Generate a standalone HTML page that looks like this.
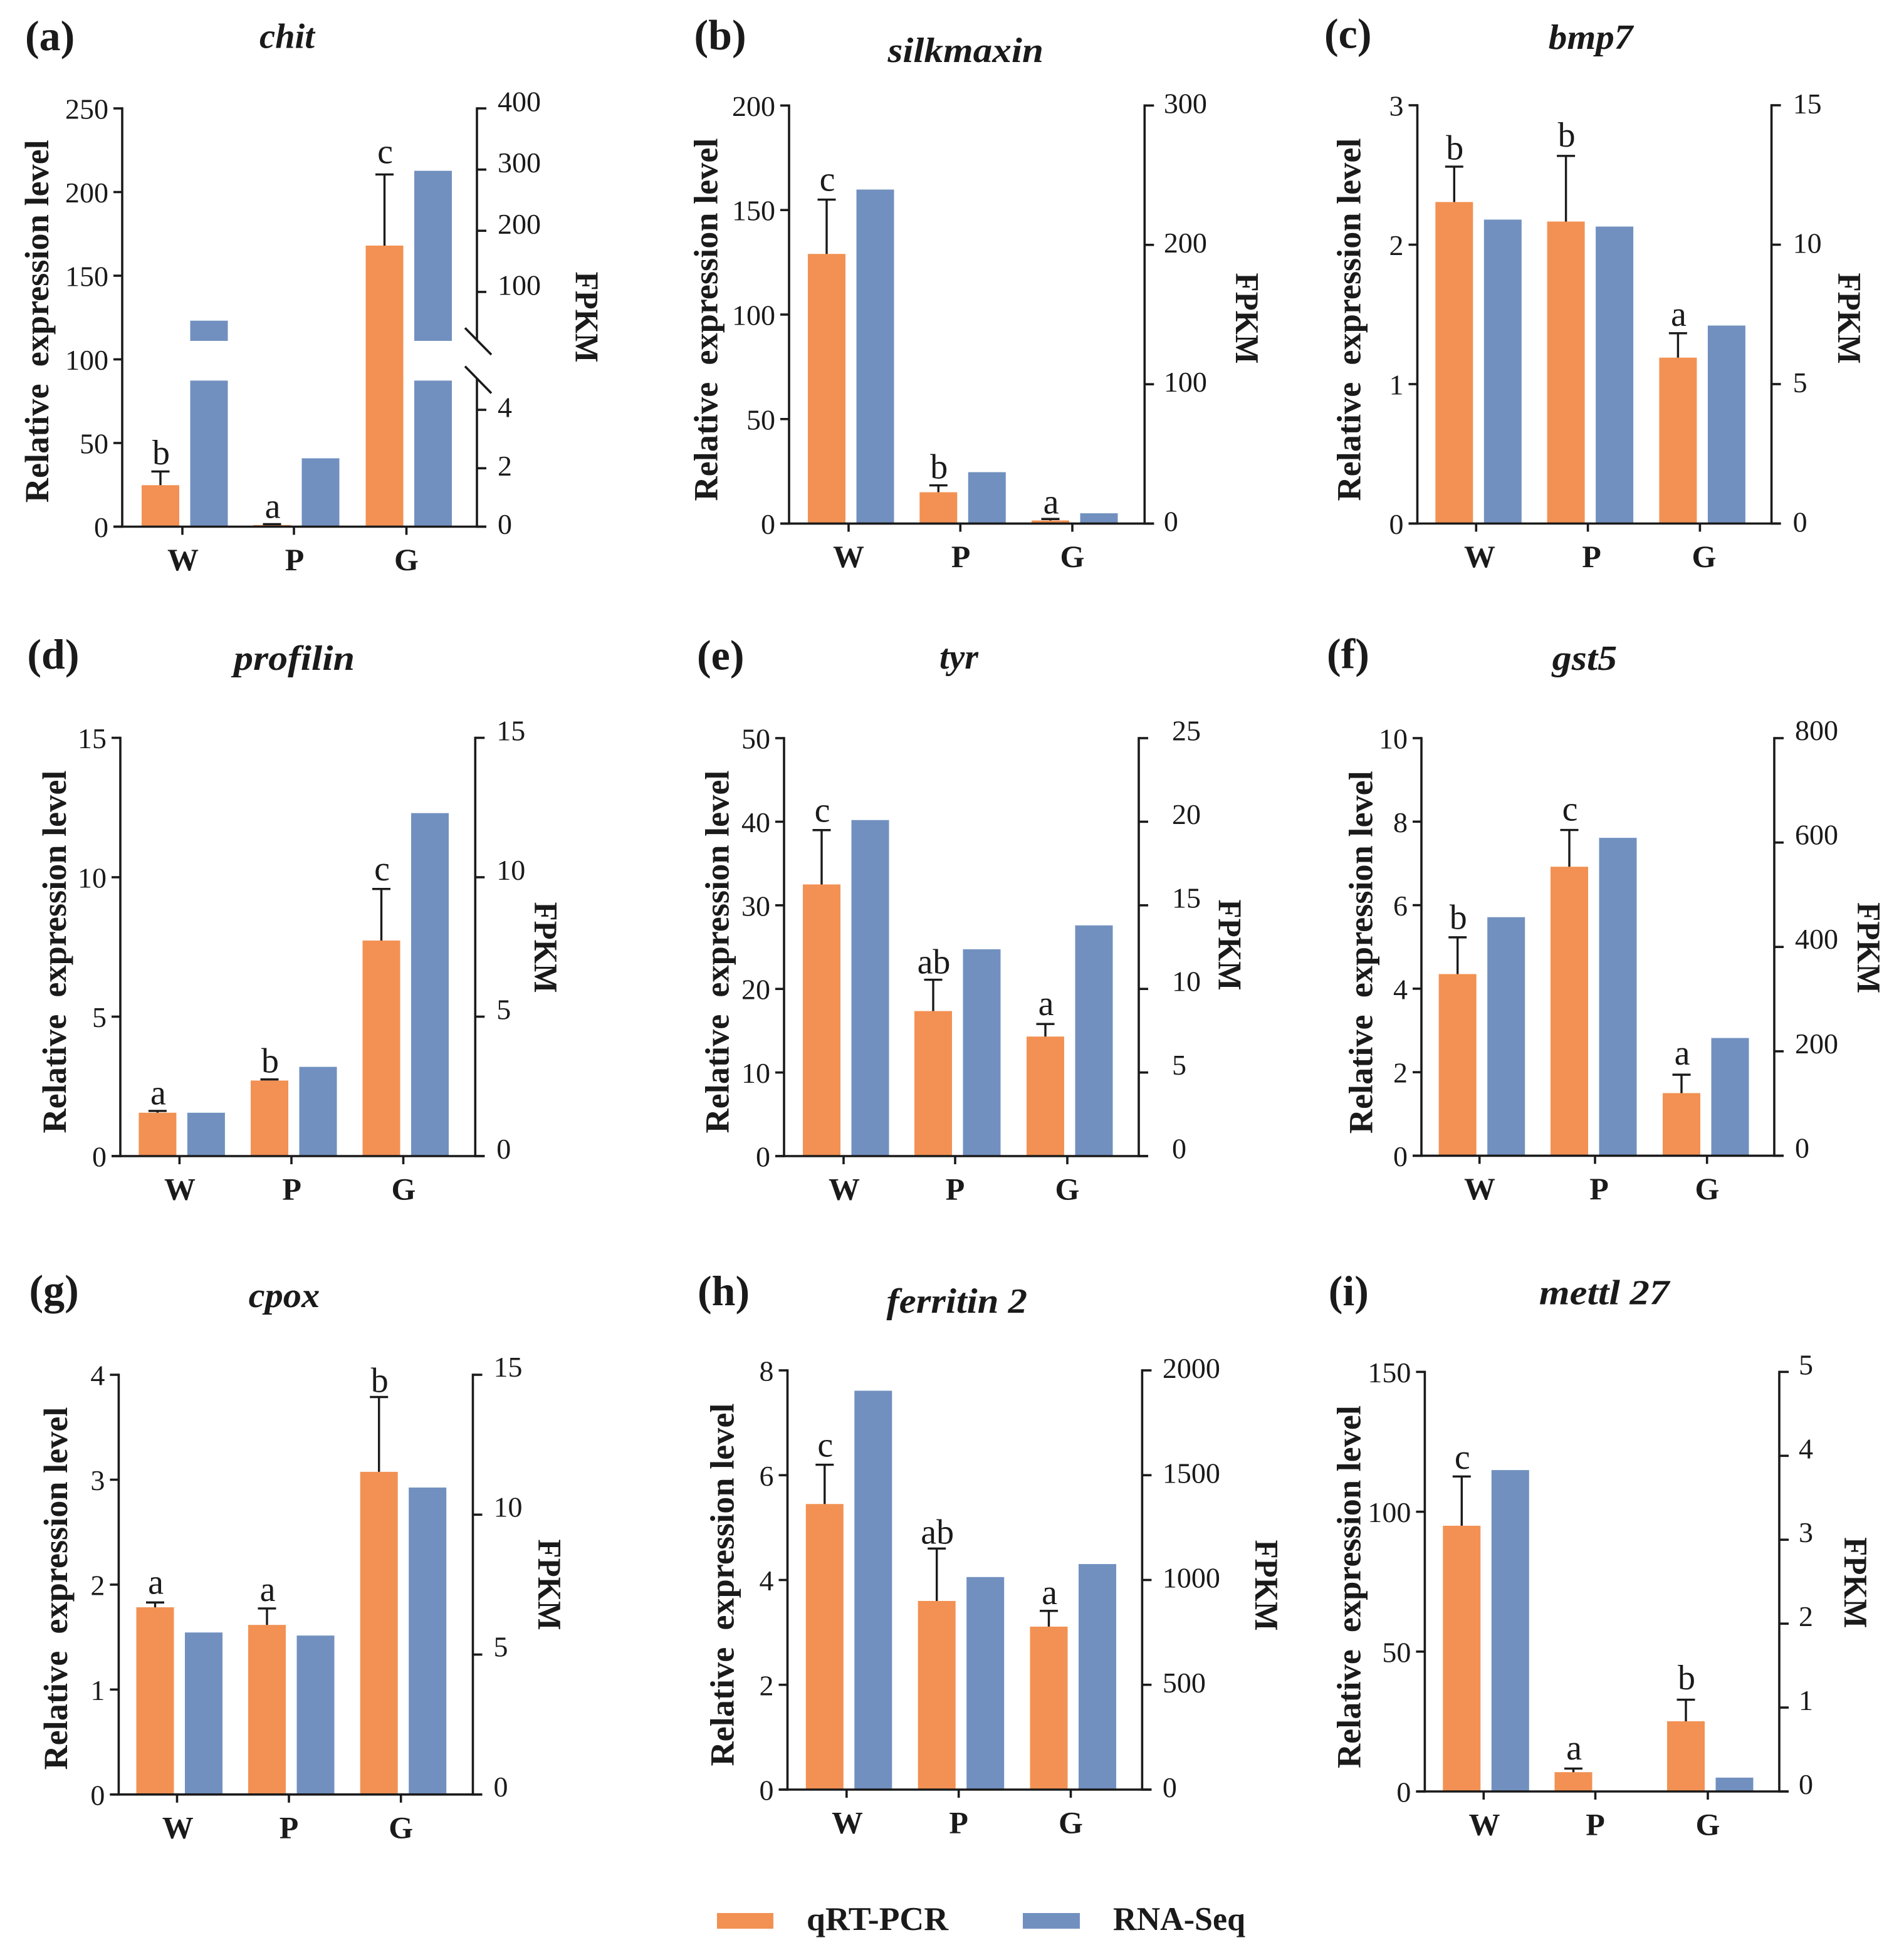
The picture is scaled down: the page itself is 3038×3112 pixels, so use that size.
<!DOCTYPE html>
<html lang="en">
<head>
<meta charset="utf-8">
<title>Relative expression level and FPKM of nine genes</title>
<style>
html,body{margin:0;padding:0;background:#fff}
svg{display:block}
text{font-family:"Liberation Serif","DejaVu Serif",serif;fill:#1a1a1a}
</style>
</head>
<body>
<svg id="figure" xmlns="http://www.w3.org/2000/svg" width="3038" height="3112" viewBox="0 0 3038 3112">
<rect x="0" y="0" width="3038" height="3112" fill="#fff"/>
<rect x="1144" y="3053" width="90" height="25" fill="#F29153"/>
<text x="1287" y="3080" font-size="53" font-weight="bold" textLength="226" lengthAdjust="spacingAndGlyphs">qRT-PCR</text>
<rect x="1632" y="3053" width="91" height="25" fill="#7190BF"/>
<text x="1776" y="3080" font-size="53" font-weight="bold" textLength="211" lengthAdjust="spacingAndGlyphs">RNA-Seq</text>
</svg>
<script>
const categories = ["W", "P", "G"];

const chitQpcr = [24.8, 1, 168];
const chitErrTop = [33, 1.5, 210.5];
const chitRna = [53, 2.34, 298];
const chitLetters = ["b", "a", "c"];
const chitLeftTicks = [0, 50, 100, 150, 200, 250];
const chitRightTicks = [0, 2, 4, 100, 200, 300, 400];

const silkmaxinQpcr = [129, 15, 1.5];
const silkmaxinErrTop = [155, 18.3, 2.2];
const silkmaxinRna = [239.7, 36.9, 7.4];
const silkmaxinLetters = ["c", "b", "a"];
const silkmaxinLeftTicks = [0, 50, 100, 150, 200];
const silkmaxinRightTicks = [0, 100, 200, 300];

const bmp7Qpcr = [2.306, 2.166, 1.19];
const bmp7ErrTop = [2.56, 2.637, 1.365];
const bmp7Rna = [10.9, 10.65, 7.1];
const bmp7Letters = ["b", "b", "a"];
const bmp7LeftTicks = [0, 1, 2, 3];
const bmp7RightTicks = [0, 5, 10, 15];

const profilinQpcr = [1.555, 2.71, 7.73];
const profilinErrTop = [1.62, 2.75, 9.58];
const profilinRna = [1.555, 3.2, 12.3];
const profilinLetters = ["a", "b", "c"];
const profilinLeftTicks = [0, 5, 10, 15];
const profilinRightTicks = [0, 5, 10, 15];

const tyrQpcr = [32.5, 17.35, 14.3];
const tyrErrTop = [39, 21.1, 15.8];
const tyrRna = [20.1, 12.37, 13.8];
const tyrLetters = ["c", "ab", "a"];
const tyrLeftTicks = [0, 10, 20, 30, 40, 50];
const tyrRightTicks = [0, 5, 10, 15, 20, 25];

const gst5Qpcr = [4.35, 6.92, 1.5];
const gst5ErrTop = [5.23, 7.8, 1.94];
const gst5Rna = [457, 609, 225.5];
const gst5Letters = ["b", "c", "a"];
const gst5LeftTicks = [0, 2, 4, 6, 8, 10];
const gst5RightTicks = [0, 200, 400, 600, 800];

const cpoxQpcr = [1.784, 1.616, 3.075];
const cpoxErrTop = [1.83, 1.773, 3.788];
const cpoxRna = [5.79, 5.68, 10.97];
const cpoxLetters = ["a", "a", "b"];
const cpoxLeftTicks = [0, 1, 2, 3, 4];
const cpoxRightTicks = [0, 5, 10, 15];

const ferritinQpcr = [5.45, 3.6, 3.11];
const ferritinErrTop = [6.2, 4.6, 3.41];
const ferritinRna = [1903, 1014, 1076];
const ferritinLetters = ["c", "ab", "a"];
const ferritinLeftTicks = [0, 2, 4, 6, 8];
const ferritinRightTicks = [0, 500, 1000, 1500, 2000];

const mettlQpcr = [95, 6.9, 25.1];
const mettlErrTop = [112.6, 8.2, 32.8];
const mettlRna = [3.83, 0, 0.165];
const mettlLetters = ["c", "a", "b"];
const mettlLeftTicks = [0, 50, 100, 150];
const mettlRightTicks = [0, 1, 2, 3, 4, 5];

const chitBreakLow = 5;
const chitBreakHigh = 20;

const panels = [
  {key:"a",title:"chit",qpcr:chitQpcr,err:chitErrTop,rna:chitRna,letters:chitLetters,lt:chitLeftTicks,rt:chitRightTicks,broken:true,
   L:195,R:761,T:173,B:840.5,cx:[291,469,648.5],lab:[292,470,648.5],gap:[11.6,10,18],rdx:33,rdy:4.5,rdyLow:11.5,
   tag:[40,80],tt:[414,76.5,88],yt:[77,512.7],fp:[918.5,506]},
  {key:"b",title:"silkmaxin",qpcr:silkmaxinQpcr,err:silkmaxinErrTop,rna:silkmaxinRna,letters:silkmaxinLetters,lt:silkmaxinLeftTicks,rt:silkmaxinRightTicks,
   L:1259,R:1826.3,T:168.4,B:835.6,cx:[1354,1532.3,1711],lab:[1354,1533,1711],gap:[14,11,9],rdx:30.6,rdy:12,
   tag:[1107.5,78.4],tt:[1416.5,99,248.5],yt:[1144.6,510],fp:[1972,508]},
  {key:"c",title:"bmp7",qpcr:bmp7Qpcr,err:bmp7ErrTop,rna:bmp7Rna,letters:bmp7Letters,lt:bmp7LeftTicks,rt:bmp7RightTicks,
   L:2261.5,R:2826.6,T:168,B:835.5,cx:[2355.3,2533.6,2712.4],lab:[2361,2539.5,2719],gap:[11.6,15,12],rdx:34,rdy:13,
   tag:[2113,76.5],tt:[2470.8,78,134.5],yt:[2170.6,510],fp:[2933,508]},
  {key:"d",title:"profilin",qpcr:profilinQpcr,err:profilinErrTop,rna:profilinRna,letters:profilinLetters,lt:profilinLeftTicks,rt:profilinRightTicks,
   L:192,R:758.3,T:1177.5,B:1845,cx:[286.4,465,643.5],lab:[287,465.6,644],gap:[10.6,11,13.7],rdx:34,rdy:4,
   tag:[43.4,1067],tt:[373,1069,193],yt:[105,1519],fp:[853,1512]},
  {key:"e",title:"tyr",qpcr:tyrQpcr,err:tyrErrTop,rna:tyrRna,letters:tyrLetters,lt:tyrLeftTicks,rt:tyrRightTicks,
   L:1251,R:1817,T:1178,B:1845,cx:[1346,1524,1703],lab:[1347,1524,1703],gap:[13,10,14],rdx:53,rdy:3.5,
   tag:[1112,1068.6],tt:[1499,1067,62],yt:[1162.6,1519],fp:[1944.5,1508]},
  {key:"f",title:"gst5",qpcr:gst5Qpcr,err:gst5ErrTop,rna:gst5Rna,letters:gst5Letters,lt:gst5LeftTicks,rt:gst5RightTicks,
   L:2268,R:2831,T:1178,B:1844.4,cx:[2360.7,2545,2723.7],bx:[2360.7,2539,2718],lab:[2361,2551.5,2724],gap:[13.5,15,16],rdx:33,rdy:3,
   tag:[2117,1066],tt:[2476.7,1069,103.5],yt:[2189.7,1519.7],fp:[2964,1512.6]},
  {key:"g",title:"cpox",qpcr:cpoxQpcr,err:cpoxErrTop,rna:cpoxRna,letters:cpoxLetters,lt:cpoxLeftTicks,rt:cpoxRightTicks,
   L:189.4,R:754.5,T:2194,B:2863.8,cx:[282.5,461,639.7],lab:[283.8,461,639.7],gap:[14,12,8],rdx:33,rdy:3,
   tag:[46.5,2081.6],tt:[396.7,2086,113.5],yt:[107,2535],fp:[859,2529]},
  {key:"h",title:"ferritin 2",qpcr:ferritinQpcr,err:ferritinErrTop,rna:ferritinRna,letters:ferritinLetters,lt:ferritinLeftTicks,rt:ferritinRightTicks,
   L:1256.5,R:1822.4,T:2187,B:2856,cx:[1350.8,1529.7,1708.5],lab:[1352,1529.7,1708.5],gap:[13,8,10.6],rdx:32.5,rdy:12,
   tag:[1113,2083],tt:[1414.5,2095,224.5],yt:[1170.6,2529],fp:[2003,2530]},
  {key:"i",title:"mettl 27",qpcr:mettlQpcr,err:mettlErrTop,rna:mettlRna,letters:mettlLetters,lt:mettlLeftTicks,rt:mettlRightTicks,
   L:2273.4,R:2839,T:2189.4,B:2859,cx:[2367.3,2545.5,2725],lab:[2368.5,2545.5,2725],gap:[12.5,14.4,16.7],rdx:31,rdy:4,
   tag:[2119.7,2083],tt:[2455.8,2081.6,207.5],yt:[2170.6,2532.5],fp:[2943,2525.7]}
];

const svg = document.getElementById("figure");
const NS = "http://www.w3.org/2000/svg";
const ORANGE = "#F29153";
const BLUE = "#7190BF";
const INK = "#1a1a1a";
const STROKE = 3.6;

function make(parent, tag, attrs, content) {
  const node = document.createElementNS(NS, tag);
  for (const k in attrs) node.setAttribute(k, attrs[k]);
  if (content !== undefined) node.textContent = content;
  parent.appendChild(node);
  return node;
}
function seg(parent, x1, y1, x2, y2) {
  return make(parent, "line", {x1, y1, x2, y2, stroke: INK, "stroke-width": STROKE});
}

panels.forEach(function (p) {
  const g = make(svg, "g", {});
  
  

  const leftMax = p.lt[p.lt.length - 1];
  const rightMax = p.rt[p.rt.length - 1];
  const yLeft = function (v) { return p.B - (v / leftMax) * (p.B - p.T); };
  const yRightPlain = function (v) { return p.B - (v / rightMax) * (p.B - p.T); };
  const lowTop = 607.4;
  const highBottom = 544;
  const yRightBroken = function (v) {
    if (v <= chitBreakLow) return p.B - (v / chitBreakLow) * (p.B - lowTop);
    return highBottom - ((v - chitBreakHigh) / (rightMax - chitBreakHigh)) * (highBottom - p.T);
  };
  const yRight = p.broken ? yRightBroken : yRightPlain;
  const barCenters = p.bx || p.cx;

  const tag = make(g, "text", {x: p.tag[0], y: p.tag[1], "font-size": 68, "font-weight": "bold"}, "(" + p.key + ")");
  
  

  const title = make(g, "text", {x: p.tt[0], y: p.tt[1], "font-size": 56, "font-weight": "bold", "font-style": "italic", textLength: p.tt[2], lengthAdjust: "spacingAndGlyphs"}, p.title);
  
  

  const yTitle = make(g, "text", {transform: "translate(" + p.yt[0] + " " + p.yt[1] + ") rotate(-90)", "font-size": 54, "font-weight": "bold", "text-anchor": "middle", style: "white-space:pre", textLength: 579, lengthAdjust: "spacingAndGlyphs"}, "Relative  expression level");
  
  

  const fpkm = make(g, "text", {transform: "translate(" + p.fp[0] + " " + p.fp[1] + ") rotate(90)", "font-size": 53, "font-weight": "bold", "text-anchor": "middle", textLength: 145, lengthAdjust: "spacingAndGlyphs"}, "FPKM");
  
  

  categories.forEach(function (cat, i) {
    const c = barCenters[i];
    const oy = yLeft(p.qpcr[i]);
    const bar = make(g, "rect", {x: c - 65, y: oy, width: 60, height: p.B - oy, fill: ORANGE});
    
    

    const rv = p.rna[i];
    if (p.broken && rv > chitBreakLow) {
      const lower = make(g, "rect", {x: c + 12.5, y: yRight(chitBreakLow), width: 60, height: p.B - yRight(chitBreakLow), fill: BLUE});
      
      
      const upper = make(g, "rect", {x: c + 12.5, y: yRight(rv), width: 60, height: yRight(chitBreakHigh) - yRight(rv), fill: BLUE});
      
      
    } else {
      const blue = make(g, "rect", {x: c + 12.5, y: yRight(rv), width: 60, height: p.B - yRight(rv), fill: BLUE});
      
      
    }

    const ex = c - 35;
    const ey = yLeft(p.err[i]);
    const err = make(g, "path", {d: "M" + ex + " " + oy + "V" + ey + "M" + (ex - 14.5) + " " + ey + "H" + (ex + 14.5), stroke: INK, "stroke-width": 3.4, fill: "none"});
    
    

    const sig = make(g, "text", {x: ex + 1, y: ey - p.gap[i], "font-size": 56, "text-anchor": "middle"}, p.letters[i]);
    
    

    const tick = seg(g, p.cx[i], p.B, p.cx[i], p.B + 13);
    
    

    const xl = make(g, "text", {x: p.lab[i], y: p.B + 69.5, "font-size": 50, "font-weight": "bold", "text-anchor": "middle"}, cat);
    
    
  });

  const leftAxis = seg(g, p.L, p.T - 1.8, p.L, p.B + 1.8);
  
  

  const xAxis = seg(g, p.L - 14, p.B, p.R + 15, p.B);
  
  

  p.lt.forEach(function (v) {
    const y = yLeft(v);
    const t = seg(g, p.L - 14, y, p.L, y);
    
    
    const l = make(g, "text", {x: p.L - 22, y: y + 16.5, "font-size": 46, "text-anchor": "end"}, String(v));
    
    
  });

  if (p.broken) {
    const upperAxis = seg(g, p.R, p.T - 1.8, p.R, 542);
    
    
    const lowerAxis = seg(g, p.R, 603, p.R, p.B + 1.8);
    
    
    const mark1 = seg(g, p.R - 19, 523.4, p.R + 23, 566);
    
    
    const mark2 = seg(g, p.R - 19, 584.6, p.R + 23, 627.5);
    
    
  } else {
    const rightAxis = seg(g, p.R, p.T - 1.8, p.R, p.B + 1.8);
    
    
  }

  p.rt.forEach(function (v) {
    const y = yRight(v);
    const t = seg(g, p.R, y, p.R + 15, y);
    
    
    const dy = (p.broken && v <= chitBreakLow) ? p.rdyLow : p.rdy;
    const l = make(g, "text", {x: p.R + p.rdx, y: y + dy, "font-size": 46}, String(v));
    
    
  });
});
</script>
</body>
</html>
